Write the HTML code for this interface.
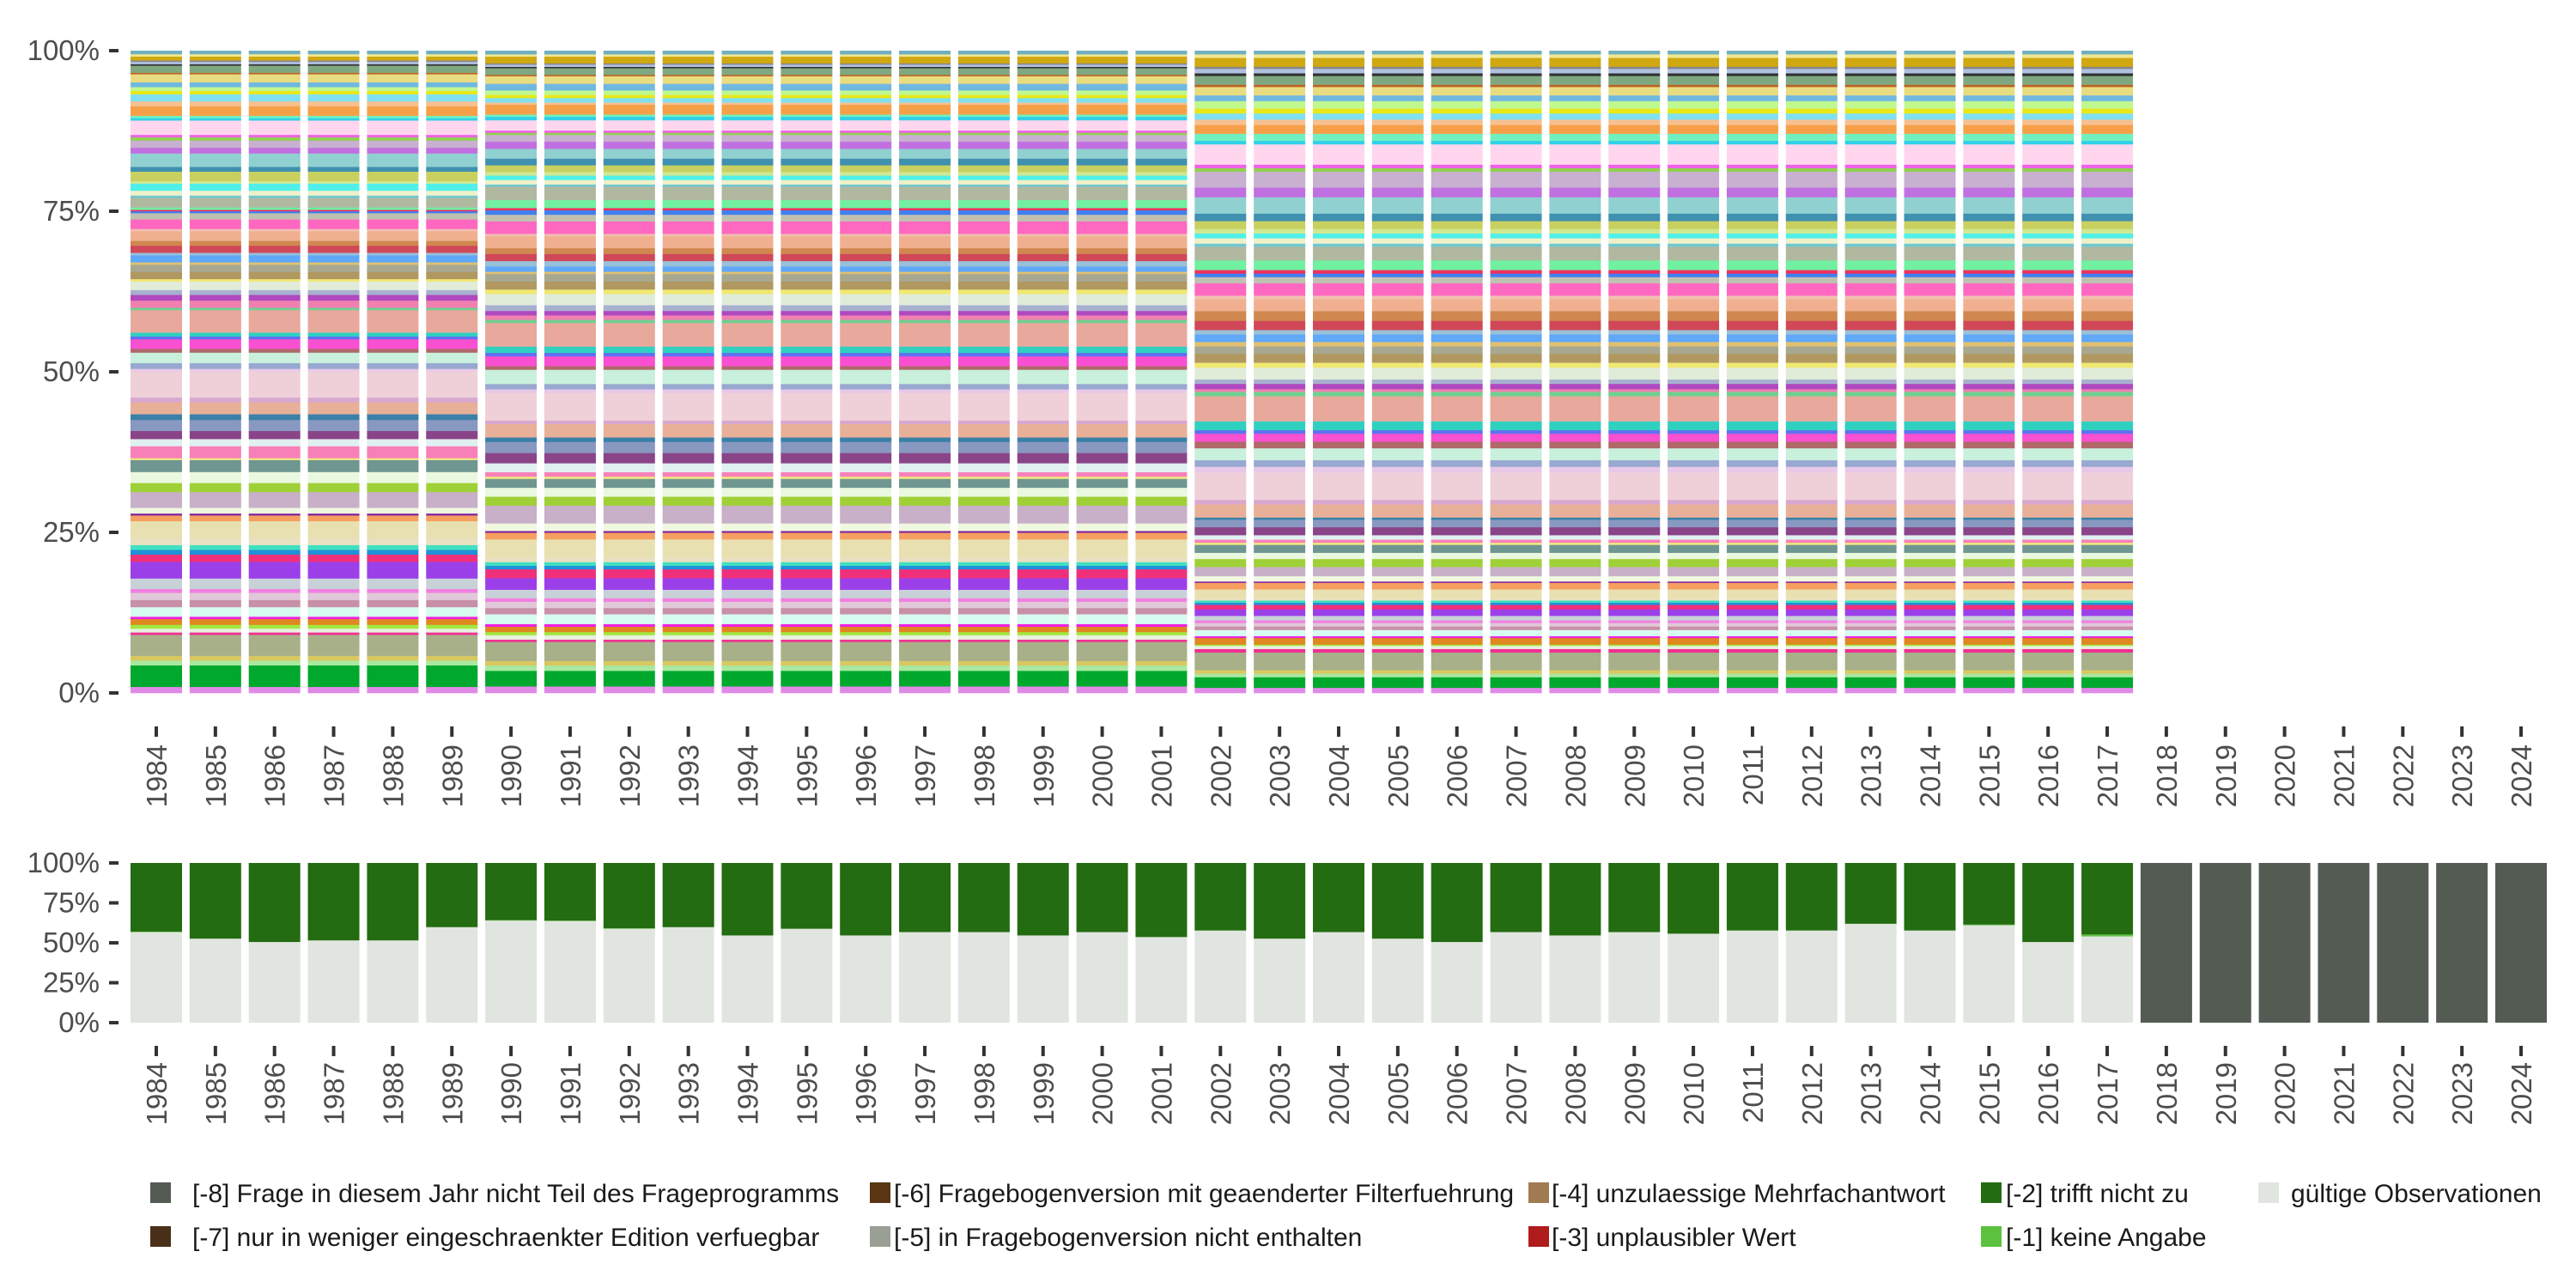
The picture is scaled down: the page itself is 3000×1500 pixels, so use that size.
<!DOCTYPE html>
<html><head><meta charset="utf-8">
<style>
html,body{margin:0;padding:0;background:#fff;}
svg{display:block;font-family:"Liberation Sans",sans-serif;}
</style></head>
<body>
<svg id="chart" width="3000" height="1500" viewBox="0 0 3000 1500" xmlns="http://www.w3.org/2000/svg">
<rect x="0" y="0" width="3000" height="1500" fill="#fff"/>
<g id="topchart"></g>
<g id="bottomchart"></g>
<g id="legend"></g>
</svg>
<script>
const years = [1984,1985,1986,1987,1988,1989,1990,1991,1992,1993,1994,1995,1996,1997,1998,1999,2000,2001,2002,2003,2004,2005,2006,2007,2008,2009,2010,2011,2012,2013,2014,2015,2016,2017,2018,2019,2020,2021,2022,2023,2024];
const yTicks = [0,0.25,0.5,0.75,1];
const yTickLabels = ["0%","25%","50%","75%","100%"];
const answerColors = ["#e08ae8","#00a82d","#a8e8a0","#d8c860","#a8b08a","#f03090","#e8f0e0","#a0e840","#e08820","#f020e0","#d6fbf0","#c890a8","#e0c8d8","#f080e0","#c8d0d8","#9b40e8","#f0307a","#2090d8","#40e0c0","#e8e0c0","#e8e0b0","#f5a060","#8020a0","#f0f8e0","#c8b0c8","#a0d038","#eaf8e0","#6f9690","#f0e880","#f880b8","#e0f0f0","#8a4488","#8898c0","#3a80a8","#e8b098","#d8a8d0","#f0d0d8","#e8c8e8","#98a8d0","#c8f0dc","#b06868","#f850d0","#6070f0","#30d0c0","#e8a89c","#70d090","#f080b0","#b048c0","#a8b0d0","#e0ecd8","#f0e870","#b09860","#a8a890","#e0c070","#60a8f8","#98c0d8","#d04858","#d08850","#f0b090","#f0c0b0","#ff68c0","#c0c0b0","#4080f0","#f03060","#70f0a0","#b0b8a0","#70c8d0","#f0f0c8","#50f0e8","#d0e890","#c8d060","#4090b0","#90d0d0","#c070e0","#c8b0d0","#90d050","#f060e8","#ffd6ee","#30d0e8","#70f0c0","#f5a048","#f8c090","#80e0f0","#e8e818","#c0f890","#70b8e0","#e8dc80","#c06020","#80a880","#303030","#b0c0e0","#888888","#d0a810","#f0e890","#70b0c0"];
const sharesEarly = [13,45,10,10,44,5,8,8,12,5,20,15,15,8,22,35,15,10,10,15,35,12,4,12,33,19,23,25,4,25,15,17,23,12,25,10,55,5,12,22,8,20,6,8,47,5,15,12,10,18,5,15,15,5,15,5,15,10,20,5,20,13,4,3,5,20,5,10,15,5,20,10,28,12,15,7,5,30,5,5,20,10,15,7,8,10,17,3,15,3,5,3,8,5,7];
const sharesMid = [15,35,12,10,43,5,10,7,12,6,22,14,14,8,19,26,20,8,8,11,40,15,4,17,40,20,20,20,5,10,20,23,25,10,30,8,62,8,12,32,8,22,8,14,53,7,10,10,13,25,10,18,17,5,12,12,16,13,27,5,28,15,10,5,18,30,5,10,10,8,15,15,22,16,15,5,5,23,8,5,22,5,10,7,10,15,17,3,15,3,5,3,15,5,8];
const sharesLate = [12,24,8,8,40,8,7,3,15,4,14,8,8,6,10,15,10,5,5,5,20,15,3,12,21,18,14,18,5,7,10,18,17,5,30,10,62,13,15,27,15,18,8,20,57,10,6,12,10,27,11,20,17,10,17,10,21,22,27,8,28,14,8,8,22,31,7,12,11,10,18,17,37,22,36,8,8,46,8,16,20,12,14,11,17,13,19,5,20,6,10,5,20,8,8];
const validShare = [0.567,0.526,0.505,0.515,0.515,0.598,0.639,0.636,0.588,0.598,0.546,0.588,0.546,0.567,0.567,0.546,0.567,0.536,0.577,0.526,0.567,0.526,0.505,0.567,0.546,0.567,0.557,0.577,0.577,0.619,0.577,0.610,0.505,0.540,0,0,0,0,0,0,0];
const noAnswerShare = [0.003,0,0,0,0,0,0.003,0.003,0.003,0,0,0,0,0,0,0,0,0,0,0,0,0,0,0,0,0,0,0,0,0,0,0.004,0,0.012,0,0,0,0,0,0,0];
const notInProgramShare = [0,0,0,0,0,0,0,0,0,0,0,0,0,0,0,0,0,0,0,0,0,0,0,0,0,0,0,0,0,0,0,0,0,0,1,1,1,1,1,1,1];
const legendLabels = ["[-8] Frage in diesem Jahr nicht Teil des Frageprogramms","[-7] nur in weniger eingeschraenkter Edition verfuegbar","[-6] Fragebogenversion mit geaenderter Filterfuehrung","[-5] in Fragebogenversion nicht enthalten","[-4] unzulaessige Mehrfachantwort","[-3] unplausibler Wert","[-2] trifft nicht zu","[-1] keine Angabe","gültige Observationen"];
const legendColors = ["#535b53","#4a3018","#5a3512","#9a9f96","#a07a50","#b01c1c","#236c11","#5bc13e","#e1e5df"];

const NS="http://www.w3.org/2000/svg";
function mk(tag,attrs,parent){const e=document.createElementNS(NS,tag);for(const k in attrs)e.setAttribute(k,attrs[k]);parent.appendChild(e);return e;}
const step=68.85, x0=182, bw=60;
const xC=i=>x0+step*i;
const topY=v=>807-v*748;
const botY=v=>1191-v*186;

function axes(g,yf,tickY,labY,prefix){
  yTicks.forEach((t,k)=>{
    const tl=mk('text',{x:116,y:yf(t)+11,'text-anchor':'end','font-size':33,fill:'#4d4d4d'},g);
    tl.textContent=yTickLabels[k];
    
    
    mk('rect',{x:127,y:yf(t)-2,width:11,height:4,fill:'#333'},g);
  });
  years.forEach((yr,i)=>{
    mk('rect',{x:xC(i)-2,y:tickY,width:4,height:12,fill:'#333'},g);
    const t=mk('text',{x:0,y:0,transform:`translate(${xC(i)+12},${labY}) rotate(-90)`,'text-anchor':'end','font-size':33,fill:'#4d4d4d'},g);
    t.textContent=yr;
    
    
  });
}

const topG=document.getElementById('topchart');
years.forEach((yr,i)=>{
  if(yr>2017) return;
  const arr = yr<=1989?sharesEarly:(yr<=2001?sharesMid:sharesLate);
  const tot=arr.reduce((a,b)=>a+b,0);
  let cum=0;
  arr.forEach((v,c)=>{
    const y1=topY(cum/tot), y2=topY((cum+v)/tot);
    cum+=v;
    const r=mk('rect',{x:xC(i)-bw/2,y:y2,width:bw,height:Math.max(0,y1-y2)+0.3,fill:answerColors[c]},topG);
    
    
  });
});
axes(topG,topY,846,867,'top');

const botG=document.getElementById('bottomchart');
years.forEach((yr,i)=>{
  const parts=[[validShare[i],"#e1e5df"],[noAnswerShare[i],"#5bc13e"],[Math.max(0,1-validShare[i]-noAnswerShare[i]-notInProgramShare[i]),"#236c11"],[notInProgramShare[i],"#535b53"]];
  let cum=0;
  parts.forEach(([v,col])=>{
    if(v<=0) return;
    const r=mk('rect',{x:xC(i)-bw/2,y:botY(cum+v),width:bw,height:botY(cum)-botY(cum+v),fill:col},botG);
    
    
    cum+=v;
  });
});
axes(botG,botY,1218,1237,'bottom');

const lg=document.getElementById('legend');
const colX=[175,1013,1780,2307,2630];
const textX=[224,1041,1807,2336,2668];
legendLabels.forEach((lab,k)=>{
  const col=k<8?Math.floor(k/2):4, row=k<8?k%2:0;
  const x=colX[col], y=row?1440:1389;
  const item=mk('g',{},lg);
  
  
  mk('rect',{x:x,y:y-12,width:24,height:24,fill:legendColors[k]},item);
  const t=mk('text',{x:textX[col],y:y+11,'font-size':30,fill:'#1a1a1a'},item);
  t.textContent=lab;
});
</script>
</body></html>
